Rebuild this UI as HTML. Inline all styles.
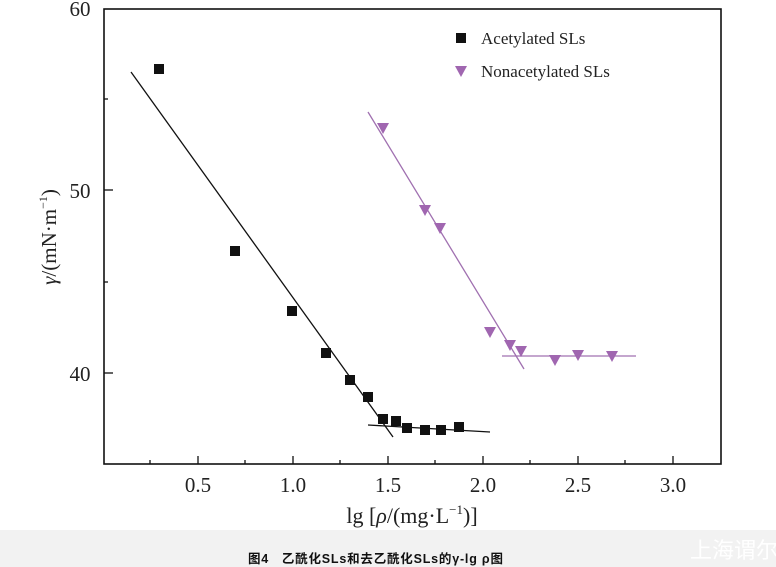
<!DOCTYPE html>
<html><head><meta charset="utf-8"><style>
body{margin:0;width:776px;height:567px;background:#fff;overflow:hidden}
svg{display:block}
</style></head><body>
<svg width="776" height="567" viewBox="0 0 776 567" xmlns="http://www.w3.org/2000/svg">
<rect x="0" y="530" width="776" height="37" fill="#f2f2f2"/>
<text x="248" y="563" font-family="Liberation Sans, Noto Sans CJK SC, sans-serif" font-size="12.5" font-weight="bold" letter-spacing="0.8" fill="#111" xml:space="preserve">图4   乙酰化SLs和去乙酰化SLs的γ-lg ρ图</text>
<text x="690" y="558" font-family="Liberation Sans, Noto Sans CJK SC, sans-serif" font-size="22" fill="#fff">上海谓尔</text>
<rect x="104" y="9" width="617" height="455" fill="none" stroke="#111" stroke-width="1.6"/>
<g stroke="#111" stroke-width="1.3">
<line x1="198" y1="464" x2="198" y2="456"/><line x1="293" y1="464" x2="293" y2="456"/><line x1="388" y1="464" x2="388" y2="456"/><line x1="483" y1="464" x2="483" y2="456"/><line x1="578" y1="464" x2="578" y2="456"/><line x1="673" y1="464" x2="673" y2="456"/>
<line x1="150" y1="464" x2="150" y2="460"/><line x1="245" y1="464" x2="245" y2="460"/><line x1="340" y1="464" x2="340" y2="460"/><line x1="435" y1="464" x2="435" y2="460"/><line x1="530" y1="464" x2="530" y2="460"/><line x1="625" y1="464" x2="625" y2="460"/>
<line x1="104" y1="190" x2="113" y2="190"/><line x1="104" y1="373" x2="113" y2="373"/>
<line x1="104" y1="99" x2="108" y2="99"/><line x1="104" y1="282" x2="108" y2="282"/>
</g>
<g font-family="Liberation Serif, serif" font-size="21" fill="#222" text-anchor="middle">
<text x="198" y="492">0.5</text><text x="293" y="492">1.0</text><text x="388" y="492">1.5</text><text x="483" y="492">2.0</text><text x="578" y="492">2.5</text><text x="673" y="492">3.0</text>
<text x="80" y="16">60</text><text x="80" y="198">50</text><text x="80" y="381">40</text>
<text x="412" y="523" font-size="22">lg [<tspan font-style="italic">ρ</tspan>/(mg·L<tspan font-size="13" dy="-9">−1</tspan><tspan dy="9">)]</tspan></text>
<text transform="translate(56,237) rotate(-90)" font-size="21"><tspan font-style="italic">γ</tspan>/(mN·m<tspan font-size="12" dy="-9">−1</tspan><tspan dy="9">)</tspan></text>
</g>
<g stroke="#111" stroke-width="1.3">
<line x1="131" y1="72" x2="393" y2="437"/><line x1="368" y1="425" x2="490" y2="432"/>
</g>
<g stroke="#a070b0" stroke-width="1.3">
<line x1="368" y1="112" x2="524" y2="369"/><line x1="502" y1="356" x2="636" y2="356"/>
</g>
<g fill="#111">
<rect x="154" y="64" width="10" height="10"/><rect x="230" y="246" width="10" height="10"/><rect x="287" y="306" width="10" height="10"/><rect x="321" y="348" width="10" height="10"/><rect x="345" y="375" width="10" height="10"/><rect x="363" y="392" width="10" height="10"/><rect x="378" y="414" width="10" height="10"/><rect x="391" y="416" width="10" height="10"/><rect x="402" y="423" width="10" height="10"/><rect x="420" y="425" width="10" height="10"/><rect x="436" y="425" width="10" height="10"/><rect x="454" y="422" width="10" height="10"/>
<rect x="456" y="33" width="10" height="10"/>
</g>
<g fill="#a066b0">
<path d="M377,123h12l-6,11z"/><path d="M419,205h12l-6,11z"/><path d="M434,223h12l-6,11z"/><path d="M484,327h12l-6,11z"/><path d="M504,340h12l-6,11z"/><path d="M515,346h12l-6,11z"/><path d="M549,355h12l-6,11z"/><path d="M572,350h12l-6,11z"/><path d="M606,351h12l-6,11z"/>
<path d="M455,66h12l-6,11z"/>
</g>
<g font-family="Liberation Serif, serif" font-size="17" fill="#222">
<text x="481" y="44">Acetylated SLs</text><text x="481" y="77">Nonacetylated SLs</text>
</g>
</svg>
</body></html>
